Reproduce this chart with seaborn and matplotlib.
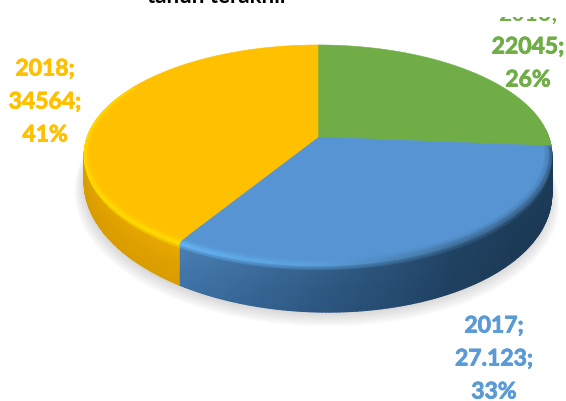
import numpy as np
import matplotlib
matplotlib.use("Agg")
import matplotlib.pyplot as plt
import matplotlib.patheffects as pe
from matplotlib.transforms import Bbox
import seaborn as sns

years = ["2016", "2017", "2018"]
values = [22045, 27123, 34564]
value_labels = ["22045", "27.123", "34564"]
percent_labels = ["26%", "33%", "41%"]
title_text = "tahun terakhir"

sns.set_theme(style="white")
plt.rcParams["font.family"] = ["Lato", "DejaVu Sans"]
palette = sns.color_palette(["#70AD47", "#5694D3", "#FFC000"])
text_colors = ["#70AD47", "#5B9BD5", "#FFC000"]

W, H = 566, 401
fig = plt.figure(figsize=(W / 100, H / 100), dpi=100, facecolor="white")
ax = fig.add_axes([0, 0, 1, 1])
ax.set_xlim(0, W)
ax.set_ylim(H, 0)
ax.axis("off")

CX, CY, R, HH, K = 318.0, 137.0, 231.0, 106.4, 0.156


def project(theta, r=1.0, z=0.0):
    u = r * np.sin(theta)
    v = r * np.cos(theta)
    w = 1 + K * v
    x = CX + R * u / w
    y = CY - HH * v / w
    drop = z * (31 - 18 * v + 6 * u)
    return x, y + drop


fractions = np.array(values) / np.sum(values)
edges = np.concatenate([[0], np.cumsum(fractions)]) * 2 * np.pi

# soft shadow
th = np.linspace(0, 2 * np.pi, 300)
for i in range(14):
    grow = 1.0 + 0.0035 * i - 0.01
    sx, sy = project(th, grow, 1.0)
    ax.fill(sx - 1, sy + 1 + 0.55 * i, color="#8a8a8a", alpha=0.028, lw=0, zorder=1)

# rim stops: angle (deg) -> colours
angle_stops = np.array([85, 95, 130, 150, 180, 211.4, 240, 270, 300])
side_top = {
    0: ["#3f6b2a"] * 9,
    1: ["#1d3c59", "#1d3c59", "#1d3c59", "#214363", "#335f8a", "#4a80b5", "#4a80b5", "#4a80b5", "#4a80b5"],
    2: ["#e8a800"] * 5 + ["#e8a800", "#e3a500", "#dfa200", "#dfa200"],
}
side_bot = {
    0: ["#3f6b2a"] * 9,
    1: ["#1c3a56", "#1c3a56", "#1c3a56", "#1f4060", "#2c5680", "#3f74a8", "#3f74a8", "#3f74a8", "#3f74a8"],
    2: ["#d99c00"] * 9,
}
highlight = {
    0: ["#70AD47"] * 9,
    1: ["#2f5578", "#2f5578", "#355d83", "#3f6e99", "#5aa0dc", "#68b8f8", "#68b8f8", "#68b8f8", "#68b8f8"],
    2: ["#ffdf00"] * 9,
}


def rgb_interp(names, deg):
    arr = np.array([matplotlib.colors.to_rgb(c) for c in names])
    return np.stack([np.interp(deg, angle_stops, arr[:, j]) for j in range(3)], axis=-1)


# profile from the face inward out to the bottom of the side: (radius, drop)
prof_r = np.array([0.94, 0.97, 0.99, 1.0, 1.0, 1.0, 1.0])
prof_z = np.array([0.0, 0.0, 0.0, 0.05, 0.16, 0.5, 1.0])

ranges = [(85.0, np.degrees(edges[1])),
          (np.degrees(edges[1]), np.degrees(edges[2])),
          (np.degrees(edges[2]), 300.0)]

meshes = []
for idx, (a0, a1) in enumerate(ranges):
    deg = np.linspace(a0, a1, 160)
    t = np.radians(deg)
    X = np.zeros((len(prof_r), len(deg)))
    Y = np.zeros_like(X)
    C = np.zeros((len(prof_r), len(deg), 3))
    face = np.array(matplotlib.colors.to_rgb(palette[idx]))
    hi = rgb_interp(highlight[idx], deg)
    top = rgb_interp(side_top[idx], deg)
    bot = rgb_interp(side_bot[idx], deg)
    for j in range(len(prof_r)):
        X[j], Y[j] = project(t, prof_r[j], prof_z[j])
    C[0] = face
    C[1] = face
    C[2] = 0.6 * face + 0.4 * hi
    C[3] = hi
    C[4] = top
    C[5] = 0.5 * (top + bot)
    C[6] = bot
    meshes.append((X, Y, C))

# side walls first, faces next, bevel over the faces
for X, Y, C in meshes:
    ax.pcolormesh(X[3:], Y[3:], C[3:], shading="gouraud", zorder=2)

for i in range(3):
    t = np.linspace(edges[i], edges[i + 1], 200)
    x, y = project(t)
    ax.fill(np.r_[CX, x], np.r_[CY, y], color=palette[i], lw=0.4, ec=palette[i], zorder=3)

for X, Y, C in meshes[1:]:
    ax.pcolormesh(X[:4], Y[:4], C[:4], shading="gouraud", zorder=4)

# labels, the top of the chart area hides what lies above it
x_pos = [528, 494, 45]
y_pos = [14, 326, 69]
SP = 33
clip_green = Bbox.from_extents(0, 0, W, H - 17)
for i in range(3):
    lines = [years[i] + ";", value_labels[i] + ";", percent_labels[i]]
    for j, line in enumerate(lines):
        txt = ax.text(x_pos[i], y_pos[i] + j * SP, line, color=text_colors[i],
                      fontsize=16.5, fontweight="bold", ha="center", va="center", zorder=6)
        if i == 0 and j == 0:
            txt.set_clip_box(clip_green)
            txt.set_clip_on(True)
        else:
            txt.set_path_effects([pe.withStroke(linewidth=0.6, foreground=text_colors[i])])

ax.text(218, 3, title_text, color="black", fontsize=16, fontweight="bold",
        ha="center", va="baseline", zorder=6)

sns.despine(ax=ax, left=True, bottom=True)
fig.savefig("out.png", dpi=100, facecolor="white")
